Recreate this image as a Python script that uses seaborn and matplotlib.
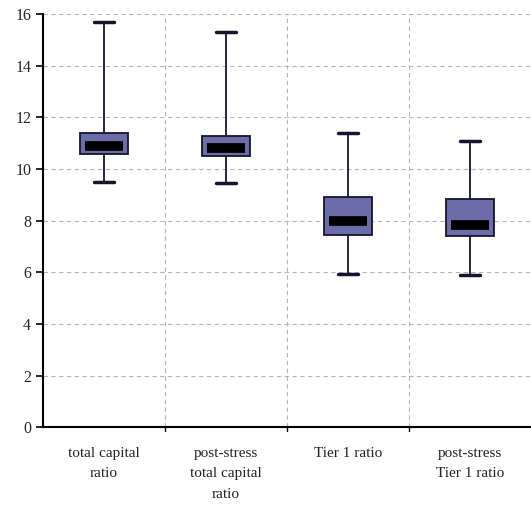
import pandas as pd
import matplotlib
matplotlib.use("Agg")
import matplotlib.pyplot as plt
import seaborn as sns

# five-number summaries: min, q1, median, q3, max
categories = ["total capital\nratio", "post-stress\ntotal capital\nratio",
              "Tier 1 ratio", "post-stress\nTier 1 ratio"]
total_capital = [9.5, 10.6, 10.9, 11.4, 15.7]
post_stress_total = [9.45, 10.5, 10.8, 11.3, 15.3]
tier1 = [5.95, 7.45, 8.0, 8.9, 11.4]
post_stress_tier1 = [5.9, 7.4, 7.85, 8.85, 11.1]

rows = []
for cat, vals in zip(categories, [total_capital, post_stress_total, tier1, post_stress_tier1]):
    for v in vals:
        rows.append({"category": cat, "value": v})
df = pd.DataFrame(rows)

sns.set_style("white")
plt.rcParams['font.family'] = ['Liberation Serif', 'DejaVu Serif']

fig = plt.figure(figsize=(5.31, 5.08), dpi=100)
ax = fig.add_axes([0.081, 0.159, 0.919, 0.813])

sns.boxplot(data=df, x="category", y="value", order=categories, ax=ax,
            whis=(0, 100), width=0.4, color="#6c6ca8", saturation=1,
            linewidth=1.3, linecolor="#15152e",
            medianprops={"color": "black", "linewidth": 7, "solid_capstyle": "butt"},
            capprops={"linewidth": 2.5})

# shorten median bars and caps
for line in ax.lines:
    lw = line.get_linewidth()
    xd = list(line.get_xdata())
    if len(xd) == 2 and xd[0] != xd[1]:
        c = (xd[0] + xd[1]) / 2
        half = (xd[1] - xd[0]) / 2
        if lw == 7:
            half *= 0.78
        elif lw == 2.5:
            half *= 0.8
        line.set_xdata([c - half, c + half])

ax.set_ylim(0, 16)
ax.set_xlim(-0.5, 3.5)
ax.set_yticks(range(0, 17, 2))
ax.set_xticks([0, 1, 2, 3])
ax.set_xticklabels(categories, fontsize=11, va="top", color="#222222", linespacing=1.75)
ax.tick_params(axis="x", length=0, pad=14)
ax.tick_params(axis="y", left=True, length=5, width=1.2, labelsize=11.5, color="black")
ax.set_xlabel("")
ax.set_ylabel("")

for yv in range(2, 17, 2):
    ax.axhline(yv, color="#b5b5b5", linestyle=(0, (4, 3)), linewidth=0.8, zorder=0)
for xv in [0.5, 1.5, 2.5]:
    ax.axvline(xv, color="#b5b5b5", linestyle=(0, (4, 3)), linewidth=0.8, zorder=0)
    ax.plot([xv, xv], [0, -0.15], color="black", linewidth=1, clip_on=False)

for s in ["top", "right"]:
    ax.spines[s].set_visible(False)
ax.spines["left"].set_linewidth(1.5)
ax.spines["left"].set_color("black")
ax.spines["bottom"].set_linewidth(1.5)
ax.spines["bottom"].set_color("black")

fig.savefig("out.png", dpi=100)
